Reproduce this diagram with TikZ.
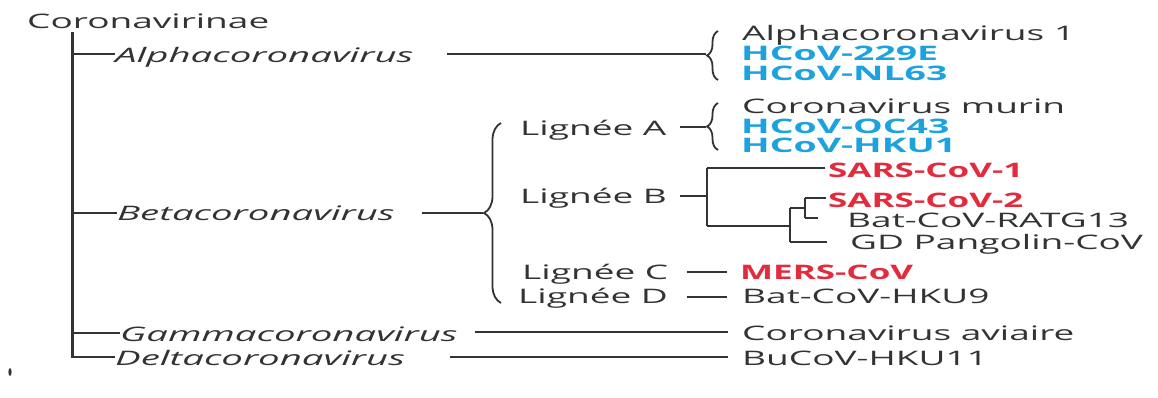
\documentclass[tikz,border=0pt]{standalone}
\usepackage{fontspec}
\setmainfont[FakeStretch=1.85]{Open Sans}
\newfontfamily\itfam[FakeStretch=1.92]{Open Sans}
\newfontfamily\blfam[FakeStretch=1.87]{Open Sans}
\newfontfamily\rdfam[FakeStretch=1.75]{Open Sans}
\usetikzlibrary{decorations.pathreplacing}
\definecolor{txt}{HTML}{333333}
\definecolor{ln}{HTML}{333333}
\definecolor{hblue}{HTML}{1CA3DF}
\definecolor{hred}{HTML}{E32B3E}
\begin{document}
\begin{tikzpicture}[x=1pt,y=-1pt,
  lbl/.style={anchor=base west, inner sep=0pt, text=txt, font=\fontsize{20}{22}\selectfont},
  gen/.style={lbl, font=\fontsize{20}{22}\itfam\itshape},
  blu/.style={lbl, text=hblue, font=\fontsize{20}{22}\blfam\bfseries},
  rd/.style={lbl, text=hred, font=\fontsize{20}{22}\rdfam\bfseries},
  edge/.style={draw=ln, line width=2pt},
  trunk/.style={draw=ln, line width=3pt},
  br/.style={draw=ln, line width=1.8pt, decorate, decoration={brace, amplitude=#1}}]
\useasboundingbox (0,0) rectangle (1158,397);

% left column
\node[lbl] (root) at (27,28) {Coronavirinae};
\node[gen] (alpha) at (115,62) {Alphacoronavirus};
\node[gen] (beta)  at (117,220) {Betacoronavirus};
\node[gen] (gamma) at (120,341) {Gammacoronavirus};
\node[gen] (delta) at (115,365) {Deltacoronavirus};

\coordinate (t0) at (72,32);
\coordinate (tD) at (72,357);
\coordinate (aJ) at (72,54);
\coordinate (bJ) at (72,213);
\coordinate (gJ) at (72,333);
\draw[trunk] (t0) -- (tD);
\draw[edge] (aJ) -- (aJ -| alpha.west);
\draw[edge] (bJ) -- (bJ -| beta.west);
\draw[edge] (gJ) -- (gJ -| gamma.west);
\draw[edge] ([xshift=-1pt]tD) -- (tD -| delta.west);

% Alpha
\coordinate (aL) at (447,54);
\coordinate (aTip) at (706,54);
\coordinate (aB1) at (718,80);
\coordinate (aB2) at (718,31);
\draw[edge] (aL) -- (aTip);
\draw[br=11pt] (aB1) -- (aB2);
\node[lbl] (a1) at (742,40) {Alphacoronavirus 1};
\node[blu] (a2) at (741,60) {HCoV-229E};
\node[blu] (a3) at (741,80) {HCoV-NL63};

% Beta
\coordinate (bL) at (422,213);
\coordinate (bTip) at (483,213);
\coordinate (bB1) at (501,303);
\coordinate (bB2) at (501,123);
\draw[edge] (bL) -- (bTip);
\draw[br=17pt] (bB1) -- (bB2);

\node[lbl] (la) at (520,135) {Lignée A};
\node[lbl] (lb) at (520,203) {Lignée B};
\node[lbl] (lc) at (522,279) {Lignée C};
\node[lbl] (ld) at (518,303) {Lignée D};

% Lignee A
\coordinate (laL) at (680,127);
\coordinate (laTip) at (706,127);
\coordinate (laB1) at (718,150);
\coordinate (laB2) at (718,103);
\draw[edge] (laL) -- (laTip);
\draw[br=11pt] (laB1) -- (laB2);
\node[lbl] (m1) at (742,113) {Coronavirus murin};
\node[blu] (m2) at (741,133) {HCoV-OC43};
\node[blu] (m3) at (741,152) {HCoV-HKU1};

% Lignee B tree
\coordinate (lbL) at (680,196);
\coordinate (lbJ) at (707,196);
\coordinate (lbT) at (707,168);
\coordinate (lbBt) at (707,226);
\coordinate (c2J) at (790,226);
\coordinate (c2T) at (790,208);
\coordinate (c2B) at (790,242);
\coordinate (c3J) at (805,208);
\coordinate (c3T) at (805,198);
\coordinate (c3B) at (805,218);
\coordinate (c3Be) at (818,218);
\node[rd]  (s1) at (828,177) {SARS-CoV-1};
\node[rd]  (s2) at (828,207) {SARS-CoV-2};
\node[lbl] (rt) at (847,227) {Bat-CoV-RATG13};
\node[lbl] (gd) at (850,249) {GD Pangolin-CoV};
\draw[edge] (lbL) -- (lbJ);
\draw[edge] (lbT) -- (lbBt);
\draw[edge] (lbT) -- ([xshift=-3pt]lbT -| s1.west);
\draw[edge] (lbBt) -- (c2J);
\draw[edge] (c2T) -- (c2B);
\draw[edge] (c2B) -- ([xshift=-23pt]c2B -| gd.west);
\draw[edge] (c2T) -- (c3J);
\draw[edge] (c3T) -- (c3B);
\draw[edge] (c3T) -- ([xshift=-2pt]c3T -| s2.west);
\draw[edge] (c3B) -- (c3Be);

% Lignee C, D
\node[rd]  (mers) at (740,279) {MERS-CoV};
\node[lbl] (hku9) at (742,303) {Bat-CoV-HKU9};
\coordinate (lcE) at (687,272);
\coordinate (ldE) at (687,297);
\draw[edge] (lcE) -- ([xshift=-13pt]lcE -| mers.west);
\draw[edge] (ldE) -- ([xshift=-15pt]ldE -| hku9.west);

% Gamma, Delta
\node[lbl] (av) at (742,340) {Coronavirus aviaire};
\node[lbl] (bu) at (742,365) {BuCoV-HKU11};
\coordinate (gL) at (475,332);
\coordinate (dL) at (450,357);
\draw[edge] (gL) -- ([xshift=-14pt]gL -| av.west);
\draw[edge] (dL) -- ([xshift=-14pt]dL -| bu.west);

\fill[ln] (10,372) ellipse (1.6pt and 4pt);
\end{tikzpicture}
\end{document}
